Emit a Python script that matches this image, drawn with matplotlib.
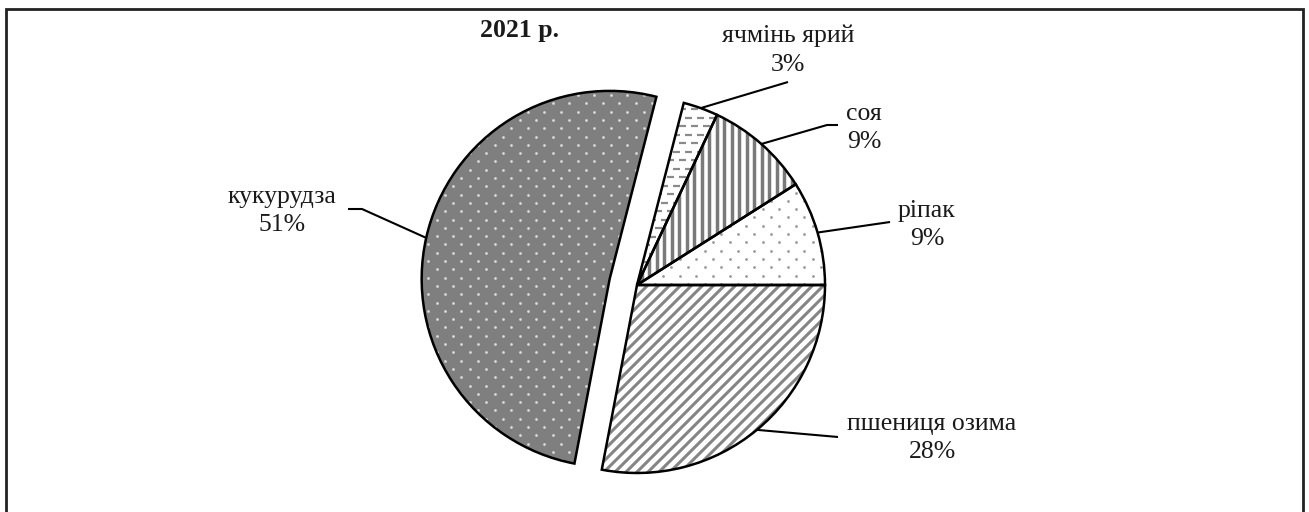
import matplotlib.pyplot as plt
import numpy as np
from matplotlib.patches import Rectangle
from matplotlib.collections import LineCollection

plt.rcParams['font.family'] = ['Liberation Serif', 'DejaVu Serif']

crops = ['ріпак', 'соя', 'ячмінь ярий', 'кукурудза', 'пшениця озима']
shares = [9, 9, 3, 51, 28]
title = '2021 р.'

face_colors = ['white', 'white', 'white', '#7f7f7f', 'white']
# fill pattern of each slice, drawn by hand and clipped to the wedge
patterns = ['dots', 'vlines', 'dashes', 'dots', 'diag']
pattern_colors = ['#9a9a9a', '#7a7a7a', '#8a8a8a', '#d9d9d9', '#858585']
explode = [0, 0, 0, 28, 0]

W, H = 1309, 512
# label layout in pixels from top-left: text centre and leader-line bends
label_pos = [(927, 225), (864, 128), (788, 50), (282, 211), (932, 438)]
leader = [[(890, 222)], [(827, 125), (838, 125)], [(788, 82)],
          [(362, 209), (348, 209)], [(838, 437)]]


def px(p):
    return p[0], H - p[1]


def fill_pattern(ax, wedge, kind, color):
    cx, cy = wedge.center
    r = wedge.r
    x0, x1, y0, y1 = cx - r - 10, cx + r + 10, cy - r - 10, cy + r + 10
    if kind == 'dots':
        pts = []
        for j, y in enumerate(np.arange(y0, y1, 8.3)):
            off = 8.3 if j % 2 else 0
            for x in np.arange(x0 + off, x1, 16.6):
                pts.append((x, y))
        pts = np.array(pts)
        art = ax.scatter(pts[:, 0], pts[:, 1], s=4, color=color,
                         linewidths=0, zorder=2)
    elif kind == 'vlines':
        segs = [[(x, y0), (x, y1)] for x in np.arange(x0, x1, 7.5)]
        art = LineCollection(segs, colors=color, linewidths=2.5, zorder=2)
        ax.add_collection(art)
    elif kind == 'diag':
        step = 11.0
        segs = [[(x0, x0 + c), (x1, x1 + c)]
                for c in np.arange(y0 - x1, y1 - x0, step)]
        art = LineCollection(segs, colors=color, linewidths=2.2, zorder=2)
        ax.add_collection(art)
    else:  # short horizontal dashes, staggered
        segs = []
        for j, y in enumerate(np.arange(y0, y1, 8.5)):
            off = 6 if j % 2 else 0
            for x in np.arange(x0 + off, x1, 12):
                segs.append([(x, y), (x + 7, y)])
        art = LineCollection(segs, colors=color, linewidths=1.6, zorder=2)
        ax.add_collection(art)
    art.set_clip_path(wedge)


fig = plt.figure(figsize=(W / 100, H / 100), dpi=100)
ax = fig.add_axes([0, 0, 1, 1])

wedges, _ = ax.pie(shares, explode=explode, startangle=0, counterclock=True,
                   center=(637, H - 285), radius=188, colors=face_colors,
                   wedgeprops=dict(linewidth=0, zorder=1))
for w, kind, c in zip(wedges, patterns, pattern_colors):
    fill_pattern(ax, w, kind, c)

# black outlines on top
ax.pie(shares, explode=explode, startangle=0, counterclock=True,
       center=(637, H - 285), radius=188,
       wedgeprops=dict(fill=False, edgecolor='black', linewidth=1.8, zorder=3))

# labels with leader lines from middle of each arc
for w, name, share, pos, pts in zip(wedges, crops, shares, label_pos, leader):
    mid = np.deg2rad((w.theta1 + w.theta2) / 2)
    cx, cy = w.center
    xs = [cx + w.r * np.cos(mid)] + [px(p)[0] for p in pts]
    ys = [cy + w.r * np.sin(mid)] + [px(p)[1] for p in pts]
    ax.plot(xs, ys, color='black', lw=1.5, solid_capstyle='butt', zorder=3)
    tx, ty = px(pos)
    ax.text(tx, ty, f'{name}\n{share}%', ha='center', va='center',
            fontsize=18.5, linespacing=1.4, color='#1a1a1a')

ax.text(*px((520, 31)), title, ha='center', va='center', fontsize=18.5,
        fontweight='bold', color='#1a1a1a')

# outer frame (bottom edge falls outside the picture)
ax.add_patch(Rectangle((6, -20), 1297, H - 9 + 20, fill=False,
                       edgecolor='#222222', linewidth=2, clip_on=False))

ax.set_xlim(0, W)
ax.set_ylim(0, H)
ax.set_aspect('auto')
ax.axis('off')

fig.savefig('out.png', dpi=100, facecolor='white')
